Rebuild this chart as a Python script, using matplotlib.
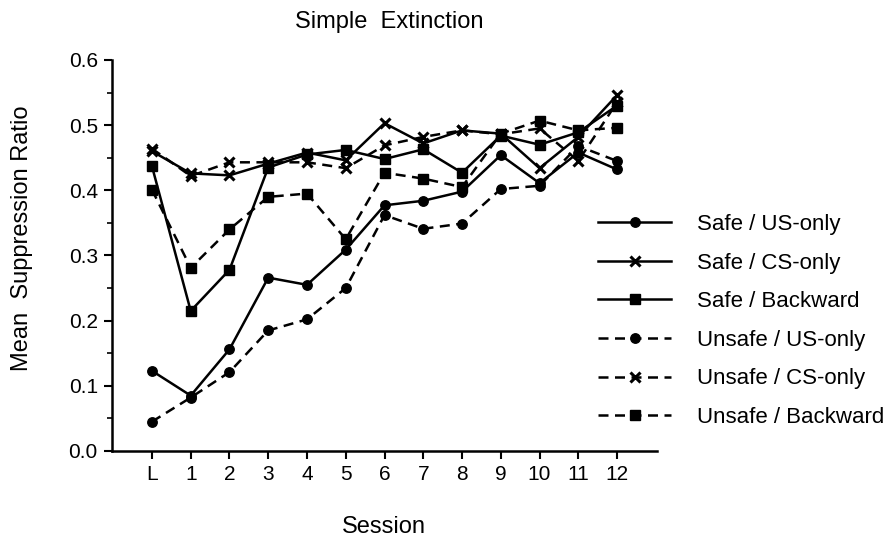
import matplotlib
matplotlib.use("Agg")
import matplotlib.pyplot as plt
from matplotlib.ticker import MultipleLocator

plt.rcParams['font.family'] = ['Liberation Sans', 'DejaVu Sans']

sessions = ["L", "1", "2", "3", "4", "5", "6", "7", "8", "9", "10", "11", "12"]
safe_us = [0.123, 0.085, 0.156, 0.266, 0.255, 0.309, 0.377, 0.384, 0.398, 0.454, 0.411, 0.458, 0.432]
safe_cs = [0.460, 0.426, 0.423, 0.441, 0.458, 0.446, 0.503, 0.472, 0.492, 0.487, 0.434, 0.482, 0.546]
safe_back = [0.437, 0.215, 0.278, 0.435, 0.455, 0.462, 0.448, 0.463, 0.427, 0.484, 0.470, 0.489, 0.530]
unsafe_us = [0.045, 0.082, 0.121, 0.185, 0.202, 0.250, 0.362, 0.341, 0.349, 0.402, 0.407, 0.468, 0.445]
unsafe_cs = [0.464, 0.422, 0.443, 0.443, 0.443, 0.434, 0.469, 0.482, 0.492, 0.486, 0.495, 0.445, 0.535]
unsafe_back = [0.401, 0.281, 0.340, 0.390, 0.395, 0.325, 0.427, 0.418, 0.405, 0.487, 0.507, 0.492, 0.496]

series = [
    ("Safe / US-only", safe_us, "-", "o"),
    ("Safe / CS-only", safe_cs, "-", "x"),
    ("Safe / Backward", safe_back, "-", "s"),
    ("Unsafe / US-only", unsafe_us, "--", "o"),
    ("Unsafe / CS-only", unsafe_cs, "--", "x"),
    ("Unsafe / Backward", unsafe_back, "--", "s"),
]

fig = plt.figure(figsize=(8.89, 5.42), dpi=100)
ax = fig.add_axes([0.1256, 0.1679, 0.6134, 0.7214])

x = list(range(len(sessions)))
for label, vals, ls, mk in series:
    kw = dict(color="black", linestyle=ls, linewidth=1.8, marker=mk, label=label)
    if mk == "x":
        kw.update(markersize=7.5, markeredgewidth=2.2)
    elif mk == "s":
        kw.update(markersize=6.5)
    else:
        kw.update(markersize=6.8)
    if ls == "--":
        kw.update(dashes=(4, 2.6))
    ax.plot(x, vals, **kw)

ax.set_xlim(-1.04, 13.03)
ax.set_ylim(0.0, 0.6)
ax.set_xticks(x)
ax.set_xticklabels(sessions)
ax.yaxis.set_major_locator(MultipleLocator(0.1))
ax.yaxis.set_minor_locator(MultipleLocator(0.05))
ax.set_yticklabels([f"{v:.1f}" for v in ax.get_yticks()])
for s in ("top", "right"):
    ax.spines[s].set_visible(False)
for s in ("left", "bottom"):
    ax.spines[s].set_linewidth(1.8)
ax.tick_params(axis="both", which="major", length=6, width=1.5, labelsize=15, pad=4, direction="out")
ax.tick_params(axis="y", which="minor", length=3.5, width=1.2)

fig.text(389 / 889, 1 - 22 / 542, "Simple  Extinction", ha="center", va="center", fontsize=17)
fig.text(22 / 889, 1 - 238 / 542, "Mean  Suppression Ratio", ha="center", va="center",
         rotation=90, fontsize=17)
fig.text(384 / 889, 1 - 527 / 542, "Session", ha="center", va="center", fontsize=17)

leg = ax.legend(loc="center left", bbox_to_anchor=(598 / 889, 1 - 321 / 542),
                bbox_transform=fig.transFigure, frameon=False, fontsize=16,
                handlelength=3.3, handletextpad=1.15, labelspacing=0.79,
                borderpad=0, borderaxespad=0)

fig.savefig("out.png", dpi=100)
